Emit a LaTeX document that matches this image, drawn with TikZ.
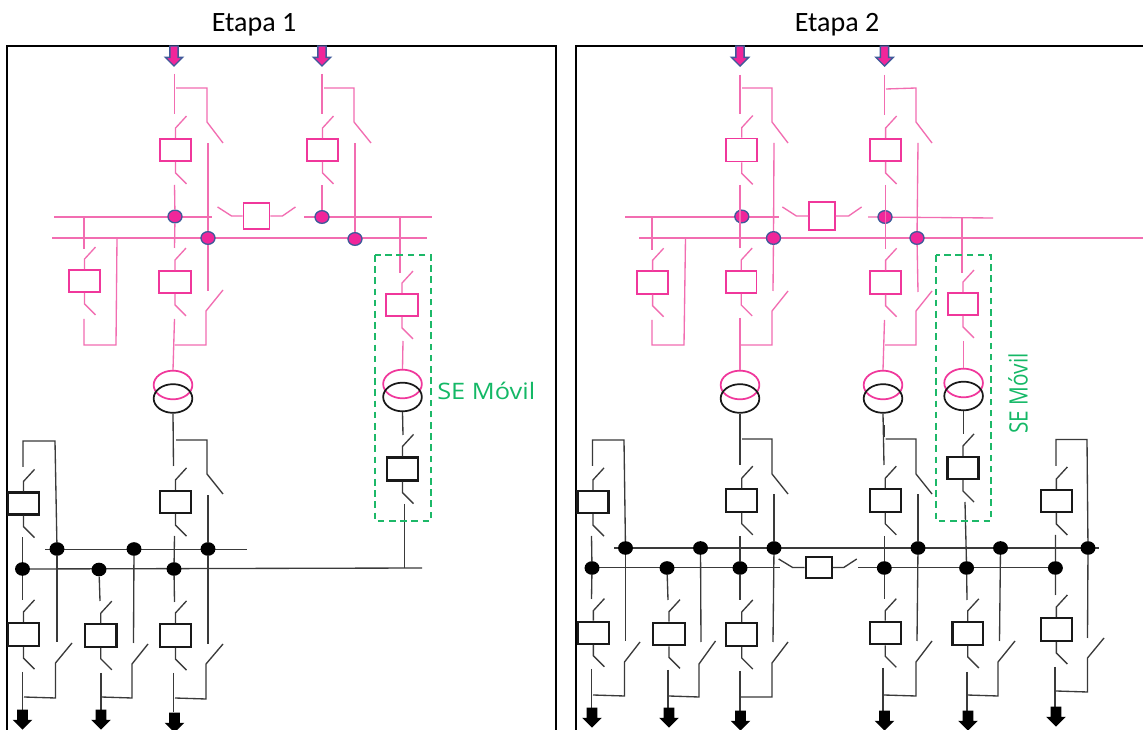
\documentclass[tikz,border=0pt]{standalone}
\usepackage{fontspec}
\setmainfont{Carlito}
\newfontfamily\labelwide[FakeStretch=1.12]{Open Sans}
\newfontfamily\labelnarrow[FakeStretch=0.82]{Open Sans}
\usetikzlibrary{shapes.geometric,shapes.arrows}
\definecolor{pkc}{HTML}{F26DB1}
\definecolor{pkb}{HTML}{F0379B}
\definecolor{pkf}{HTML}{F0269A}
\definecolor{ring}{HTML}{3F5A9A}
\definecolor{bkc}{HTML}{3A3A3A}
\definecolor{grn}{HTML}{14B866}
\definecolor{grd}{HTML}{1DB868}
\tikzset{
  pkline/.style={draw=pkc,line width=1pt},
  bkline/.style={draw=bkc,line width=1pt},
  pkbox/.style={rectangle,draw=pkb,line width=1.4pt,fill=white,inner sep=0pt},
  bkbox/.style={rectangle,draw=black!90,line width=1.6pt,fill=white,inner sep=0pt},
  pkdot/.style={ellipse,draw=ring,fill=pkf,line width=1pt,inner sep=0pt,minimum width=10.5pt,minimum height=9.5pt},
  bkdot/.style={ellipse,fill=black,inner sep=0pt,minimum width=11.2pt,minimum height=10.2pt},
  pktr/.style={ellipse,draw=pkb,line width=1.3pt,inner sep=0pt,minimum width=29pt,minimum height=21.5pt},
  bktr/.style={ellipse,draw=black!90,line width=1.3pt,inner sep=0pt,minimum width=29pt,minimum height=21.5pt},
  pkarrow/.style={single arrow,shape border rotate=270,anchor=tip,draw=ring,fill=pkf,line width=1pt,inner sep=2.4pt,minimum height=15pt,minimum width=13pt,single arrow head extend=3.2pt,single arrow head indent=0pt},
  bkarrow/.style={single arrow,shape border rotate=270,anchor=tip,fill=black,draw=none,inner sep=3.75pt,minimum height=15pt,minimum width=14pt,single arrow head extend=3.4pt,single arrow head indent=0pt},
  frame/.style={draw=black,line width=1.5pt},
  sebox/.style={draw=grd,line width=1.5pt,dash pattern=on 5pt off 3.4pt},
  titletext/.style={font=\fontsize{21}{24}\selectfont,text=black,anchor=base,inner sep=0pt},
  setext/.style={text=grn,inner sep=0pt}
}
% name, x, y, width, height, family (pk/bk)
\newcommand{\brk}[6]{%
  \node[#6box,minimum width=#4*0.75pt,minimum height=#5*0.75pt] (#1) at (#2,#3) {};
  \draw[#6line] (#1.north) -- ++(0,-10) -- ++(11,-12);
  \draw[#6line] (#1.south) -- ++(0,11) -- ++(11,11);
}
\begin{document}
\begin{tikzpicture}[x=0.75pt,y=-0.75pt]
\useasboundingbox (0,0) rectangle (1143,730);
\clip (0,0) rectangle (1143,730);
\fill[white] (0,0) rectangle (1143,730);

% titles and frames
\node[titletext] (t1) at (254,32) {Etapa 1};
\node[titletext] (t2) at (837,32) {Etapa 2};
\draw[frame] (6.5,731) -- (6.5,46) -- (556,46) -- (556,731);
\draw[frame] (575.5,731) -- (575.5,46) -- (1143,46);

% ================= ETAPA 1 =================
% pink buses
\draw[pkline] (54,217) -- (212,217);
\draw[pkline] (304,217) -- (432,217);
\draw[pkline] (52,238) -- (427,238);
% black buses
\draw[bkline] (45,549.5) -- (247,549.5);
\draw[bkline] (24,569) -- (422,568);

% dots
\node[pkdot] (a1) at (175,216.5) {};
\node[pkdot] (a2) at (208,238) {};
\node[pkdot] (a3) at (322,217) {};
\node[pkdot] (a4) at (355,239) {};
\node[bkdot] (c1) at (57,549) {};
\node[bkdot] (c2) at (134,549) {};
\node[bkdot] (c3) at (208,549) {};
\node[bkdot] (d1) at (22.5,569) {};
\node[bkdot] (d2) at (99,569.5) {};
\node[bkdot] (d3) at (174,569) {};

% top arrows
\node[pkarrow] (in1) at (174,67) {};
\node[pkarrow] (in2) at (322,67) {};

% transformers
\node[pktr] (tp1) at (173,385) {};
\node[bktr] (tk1) at (173,398.5) {};
\node[pktr] (tp2) at (402.5,384) {};
\node[bktr] (tk2) at (402.5,397) {};

% pink breakers
\brk{p1}{175.5}{150}{31}{22}{pk}
\brk{p2}{322.5}{150}{31}{22}{pk}
\brk{p3}{84.5}{281}{31}{22}{pk}
\brk{p4}{175}{282}{32}{22}{pk}
\brk{p5}{402}{305}{32}{22}{pk}
% coupler
\node[pkbox,minimum width=19.5pt,minimum height=19.5pt] (pc) at (256.5,216) {};
\draw[pkline] (pc.west) -- ++(-11,0) -- ++(-14,-9);
\draw[pkline] (pc.east) -- ++(12,0) -- ++(13,-9);

% pink wiring
\draw[pkline] (174.5,74) -- (174.5,114);
\draw[pkline] (176,88) -- (207,88) -- (207,122) -- (223,143);
\draw[pkline] (a2) -- (208,143);
\draw[pkline] (a1) -- (174.5,185);
\draw[pkline] (a1) -- (174.5,248);
\draw[pkline] (322,74) -- (322,114);
\draw[pkline] (324,88) -- (354,88) -- (354,122) -- (371,143);
\draw[pkline] (a4) -- (355,143);
\draw[pkline] (a3) -- (322,185);
\draw[pkline] (84,217) -- (84,249);
\draw[pkline] (84,319) -- (84,345) -- (116,345) -- (117,238);
\draw[pkline] (a2) -- (208,291);
\draw[pkline] (174.5,345) -- (206,345) -- (206,311) -- (223,290);
\draw[pkline] (174.5,319) -- (tp1.north);
\draw[pkline] (400,217) -- (400,273);
\draw[pkline] (403,341) -- (tp2.north);

% black breakers
\brk{k1}{23.5}{503.5}{31}{22}{bk}
\brk{k2}{175.5}{502}{31}{22}{bk}
\brk{k3}{402.5}{469}{31}{23}{bk}
\brk{k4}{23.5}{634.5}{31}{23}{bk}
\brk{k5}{100.8}{635.5}{31.5}{22.5}{bk}
\brk{k6}{175.5}{635.5}{31}{23}{bk}

% black wiring
\draw[bkline] (tk1.south) -- (173.5,466);
\draw[bkline] (176,440) -- (207,440) -- (207,474) -- (223,494);
\draw[bkline] (c3) -- (208,495);
\draw[bkline] (d3) -- (174.5,536);
\draw[bkline] (d3) -- (174.5,602);
\draw[bkline] (173.5,673) -- (173.5,712);
\draw[bkline] (175,698) -- (206,699) -- (206,664) -- (223,644);
\draw[bkline] (c3) -- (208,644);
\draw[bkline] (23,467) -- (23,441) -- (55,441) -- (c1);
\draw[bkline] (c1) -- (57,642);
\draw[bkline] (d1) -- (22.5,537);
\draw[bkline] (d1) -- (22.5,600);
\draw[bkline] (22.5,672) -- (22.5,712);
\draw[bkline] (24,697) -- (55.5,698) -- (55.5,663) -- (72,643);
\draw[bkline] (d2) -- (100,601);
\draw[bkline] (101,673) -- (101,712);
\draw[bkline] (101,697) -- (132,698) -- (132,664) -- (148,644);
\draw[bkline] (c2) -- (133.5,643);
\draw[bkline] (tk2.south) -- (403,435);
\draw[bkline] (404.5,504) -- (404.5,568);

% load arrows
\node[bkarrow] (o1) at (22.5,730) {};
\node[bkarrow] (o2) at (101,730) {};
\node[bkarrow] (o3) at (174.5,733) {};

% SE Movil box
\draw[sebox] (375,255) rectangle (431,521);
\node[setext,font=\labelwide\fontsize{17}{20}\selectfont,anchor=base west] (se1) at (437,400) {SE Móvil};

% ================= ETAPA 2 =================
% pink buses
\draw[pkline] (625,217) -- (779,217);
\draw[pkline] (868,217) -- (993,218);
\draw[pkline] (639,238) -- (1143,238);
% black buses
\draw[bkline] (614,548) -- (1099,548);
\draw[bkline] (592,567.5) -- (780,567.5);
\draw[bkline] (858,567.5) -- (1056,567.5);

% dots
\node[pkdot] (e1) at (741.8,216.5) {};
\node[pkdot] (e2) at (773.5,238) {};
\node[pkdot] (e3) at (885,217) {};
\node[pkdot] (e4) at (917,238) {};
\node[bkdot] (f1) at (625.5,548) {};
\node[bkdot] (f2) at (700.5,548) {};
\node[bkdot] (f3) at (774,548) {};
\node[bkdot] (f4) at (918,548) {};
\node[bkdot] (f5) at (1000.5,548) {};
\node[bkdot] (f6) at (1088,548) {};
\node[bkdot] (g1) at (592,568) {};
\node[bkdot] (g2) at (667,568) {};
\node[bkdot] (g3) at (740,568) {};
\node[bkdot] (g4) at (884.3,568) {};
\node[bkdot] (g5) at (966.6,568) {};
\node[bkdot] (g6) at (1055.4,568) {};

% top arrows
\node[pkarrow] (in3) at (740,67) {};
\node[pkarrow] (in4) at (884.5,67) {};

% transformers
\node[pktr] (tp3) at (740,385) {};
\node[bktr] (tk3) at (740,398.5) {};
\node[pktr] (tp4) at (883,385) {};
\node[bktr] (tk4) at (883,398.5) {};
\node[pktr] (tp5) at (963.6,383) {};
\node[bktr] (tk5) at (963.6,396) {};

% pink breakers
\brk{q1}{741.8}{150}{31}{23}{pk}
\brk{q2}{885.6}{150}{31}{22}{pk}
\brk{q3}{652.6}{282.5}{31}{22.5}{pk}
\brk{q4}{741.2}{282}{30.5}{22}{pk}
\brk{q5}{885.6}{282.5}{31.5}{22.5}{pk}
\brk{q6}{963}{304}{30.5}{22}{pk}
% coupler
\node[pkbox,minimum width=19pt,minimum height=21pt] (qc) at (822,216) {};
\draw[pkline] (qc.west) -- ++(-12,0) -- ++(-14,-9);
\draw[pkline] (qc.east) -- ++(13,0) -- ++(13,-9);

% pink wiring
\draw[pkline] (740,75) -- (740,114);
\draw[pkline] (742,88) -- (772,88) -- (772,122) -- (788,143);
\draw[pkline] (e2) -- (774,143);
\draw[pkline] (740,185) -- (740,248);
\draw[pkline] (e2) -- (773,291);
\draw[pkline] (884.5,75) -- (884.5,115);
\draw[pkline] (886,89) -- (916,88) -- (916,122) -- (932,143);
\draw[pkline] (e4) -- (918,143);
\draw[pkline] (e4) -- (918,292);
\draw[pkline] (885.5,185) -- (885.5,249);
\draw[pkline] (740,318) -- (tp3.north);
\draw[pkline] (741,345) -- (772,345) -- (772,311) -- (788,291);
\draw[pkline] (884.5,320) -- (tp4.north);
\draw[pkline] (885,345) -- (916,345) -- (916,311) -- (932,291);
\draw[pkline] (652,217) -- (652,250);
\draw[pkline] (652,320) -- (652,345) -- (684,345) -- (685.5,238);
\draw[pkline] (962,218) -- (962,273);
\draw[pkline] (963.6,341) -- (tp5.north);

% black breakers
\brk{m1}{593}{502}{31}{22}{bk}
\brk{m2}{741.8}{500.5}{31}{22.5}{bk}
\brk{m3}{885.3}{500.5}{31}{22.5}{bk}
\brk{m4}{963}{468}{31}{22}{bk}
\brk{m5}{1056.4}{501}{31}{22}{bk}
\brk{m6}{593.4}{632.7}{30.5}{22}{bk}
\brk{m7}{669}{634}{31.5}{22.5}{bk}
\brk{m8}{741.8}{634.5}{31}{23}{bk}
\brk{m9}{885.3}{633}{31}{22.5}{bk}
\brk{m10}{967.8}{633.4}{30.5}{23}{bk}
\brk{m11}{1056.4}{629.5}{31}{23}{bk}
% coupler
\node[bkbox,minimum width=19.5pt,minimum height=15.5pt] (mc) at (818.7,567.5) {};
\draw[bkline] (mc.west) -- ++(-12,0) -- ++(-14,-8.5);
\draw[bkline] (mc.east) -- ++(11,0) -- ++(13,-8.5);

% black wiring
\draw[bkline] (tk3.south) -- (740,465);
\draw[bkline] (742,439) -- (772,439) -- (772,474) -- (788,494);
\draw[bkline] (f3) -- (774,494);
\draw[bkline] (g3) -- (740,536);
\draw[bkline] (g3) -- (740,600);
\draw[bkline] (740,671) -- (740,713);
\draw[bkline] (741,697) -- (772,697) -- (772,663) -- (788,642);
\draw[bkline] (f3) -- (773,642);
\draw[bkline] (tk4.south) -- (884,465);
\draw[bkline,line width=1.4pt] (884,425) -- (884,437);
\draw[bkline] (885.5,439) -- (916,439) -- (916,474) -- (932,494);
\draw[bkline] (f4) -- (918,494);
\draw[bkline] (g4) -- (884.3,536);
\draw[bkline] (g4) -- (884.3,599);
\draw[bkline] (883,668) -- (883,712);
\draw[bkline] (884,695) -- (916,696) -- (916,662) -- (932,641);
\draw[bkline] (f4) -- (917,641);
\draw[bkline] (tk5.south) -- (963.6,434);
\draw[bkline] (965,502) -- (g5);
\draw[bkline] (g5) -- (967,600);
\draw[bkline] (967,672) -- (967,713);
\draw[bkline] (967,695) -- (998,696) -- (998,662) -- (1015,641);
\draw[bkline] (f5) -- (999.5,641);
\draw[bkline] (592.5,466) -- (592.5,440) -- (624,440) -- (f1);
\draw[bkline] (f1) -- (625.5,641);
\draw[bkline] (g1) -- (591.5,536);
\draw[bkline] (g1) -- (591.5,599);
\draw[bkline] (591.5,669) -- (591.5,710);
\draw[bkline] (593,695) -- (624.5,696) -- (624.5,662) -- (640,642);
\draw[bkline] (g2) -- (668,600);
\draw[bkline] (668,670) -- (668,709);
\draw[bkline] (669,696) -- (699,697) -- (699,664) -- (715.5,641);
\draw[bkline] (f2) -- (701,642);
\draw[bkline] (1056,466) -- (1056,439.5) -- (1087,439.5) -- (f6);
\draw[bkline] (f6) -- (1087.5,638);
\draw[bkline] (g6) -- (1055.5,535);
\draw[bkline] (g6) -- (1055.5,595);
\draw[bkline] (1055,667) -- (1055,708);
\draw[bkline] (1056,691) -- (1087.5,692) -- (1087.5,658) -- (1104,638);

% load arrows
\node[bkarrow] (o4) at (592,728) {};
\node[bkarrow] (o5) at (669,728) {};
\node[bkarrow] (o6) at (740.5,731) {};
\node[bkarrow] (o7) at (884.5,731) {};
\node[bkarrow] (o8) at (968,731) {};
\node[bkarrow] (o9) at (1056,727) {};

% SE Movil box
\draw[sebox] (936,255) rectangle (991,521);
\node[setext,font=\labelnarrow\fontsize{19}{22}\selectfont,rotate=90] (se2) at (1018,393.5) {SE Móvil};
\end{tikzpicture}
\end{document}
